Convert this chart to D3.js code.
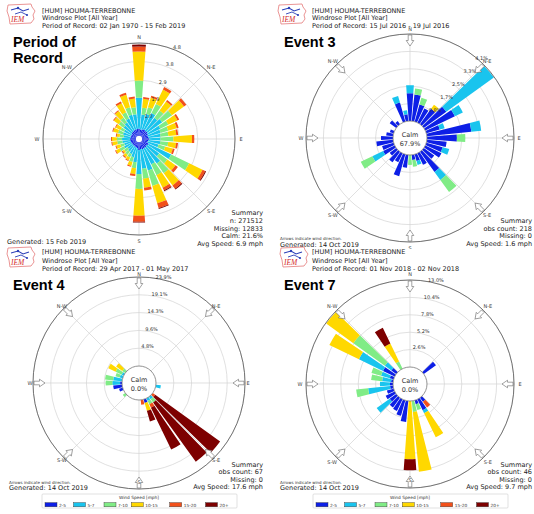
<!DOCTYPE html>
<html><head><meta charset="utf-8">
<script src="https://cdn.jsdelivr.net/npm/d3@7"></script>
<style>
html,body{margin:0;padding:0;background:#fff;}
svg{display:block;font-family:"DejaVu Sans",sans-serif;}
</style></head><body>
<svg id="c" width="534" height="514"></svg>
<script>
// ---------- shared categories ----------
const directions = [0,10,20,30,40,50,60,70,80,90,100,110,120,130,140,150,160,170,180,190,200,210,220,230,240,250,260,270,280,290,300,310,320,330,340,350];
const speedBins = ["2-5","5-7","7-10","10-15","15-20","20+"];
const binColors = ["#0d1fe6","#19c4ee","#80ec86","#ffd800","#f2501a","#7d0000"];
const compassLabels = ["N","N-E","E","S-E","S","S-W","W","N-W"];
const compassBearings = [0,45,90,135,180,225,270,315];
const stationLine = "[HUM] HOUMA-TERREBONNE";
const plotLine = "Windrose Plot [All Year]";

// ---------- Panel 1: Period of Record ----------
const porPeriod = "Period of Record: 02 Jan 1970 - 15 Feb 2019";
const por_2_5   = [0.38,0.34,0.36,0.40,0.37,0.39,0.35,0.33,0.34,0.38,0.33,0.32,0.40,0.36,0.38,0.37,0.39,0.36,0.41,0.33,0.30,0.29,0.28,0.27,0.29,0.28,0.30,0.31,0.28,0.30,0.29,0.31,0.33,0.35,0.37,0.36];
const por_5_7   = [1.60,0.77,0.83,0.93,0.83,0.93,0.72,0.67,0.62,0.57,0.62,0.57,1.29,0.77,1.03,0.93,1.14,1.03,1.24,0.72,0.52,0.41,0.36,0.31,0.41,0.36,0.41,0.41,0.36,0.41,0.41,0.52,0.57,0.67,0.77,0.77];
const por_7_10  = [0.88,0.36,0.36,0.52,0.46,0.62,0.46,0.41,0.41,0.67,0.41,0.36,1.03,0.52,0.62,0.62,0.83,0.52,0.77,0.31,0.26,0.21,0.21,0.21,0.26,0.21,0.26,0.26,0.21,0.26,0.21,0.31,0.31,0.36,0.41,0.36];
const por_10_15 = [1.50,0.46,0.52,0.83,0.57,0.77,0.52,0.46,0.41,0.96,0.41,0.41,0.77,0.52,0.77,0.72,0.93,0.46,1.38,0.31,0.21,0.15,0.15,0.10,0.21,0.21,0.26,0.26,0.15,0.26,0.26,0.31,0.41,0.52,0.67,0.46];
const por_15_20 = [0.26,0.10,0.10,0.15,0.10,0.15,0.10,0.10,0.10,0.12,0.10,0.10,0.15,0.15,0.21,0.15,0.26,0.15,0.31,0.10,0.05,0.05,0.05,0.05,0.05,0.05,0.05,0.05,0.05,0.05,0.05,0.05,0.05,0.10,0.10,0.10];
const por_20p   = [0.10,0,0,0,0,0,0,0,0,0,0,0,0.05,0,0.05,0.05,0.05,0,0.05,0,0,0,0,0,0,0,0,0,0,0,0,0,0,0,0,0];
const porRingValues = [0.96,1.92,2.88,3.84,4.8];
const porRingLabels = ["1.0","1.9","2.9","3.8","4.8"];
const porSummary = ["Summary","n: 271512","Missing: 12833","Calm: 21.6%","Avg Speed: 6.9 mph"];

// ---------- Panel 2: Event 3 ----------
const ev3Period = "Period of Record: 15 Jul 2016 - 19 Jul 2016";
const ev3_2_5   = [1.32,1.27,0.85,0.75,0.90,1.32,1.56,0.66,2.12,1.42,0.94,0.80,0.85,0.61,1.18,0.61,0.33,0.24,0,0.61,1.08,0.47,0.61,0.38,0.61,0.57,0.80,0.57,0.33,0.19,0,0.38,0.19,0,0.94,0.33];
const ev3_5_7   = [0.38,0,0,0,0,2.78,0.42,0.24,0.47,0,0,0.33,0,0,0.47,0,0.19,0,0,0,0,0,0,0,0.57,0,0,0,0,0,0,0,0,0,0.33,0.19];
const ev3_7_10  = [0,0.28,0.33,0,0,0,0,0,0,0.40,0,0,0,0,0.71,0,0,0.33,0.47,0,0,0,0,0,0.61,0,0,0,0,0,0,0,0,0,0,0];
const ev3_10_15 = [0,0,0,0,0.24,0,0,0,0,0,0,0,0,0,0,0,0,0,0,0,0,0,0,0,0,0,0,0,0,0,0,0,0,0,0,0];
const ev3_15_20 = [0,0,0,0,0,0,0,0,0,0,0,0,0,0,0,0,0,0,0,0,0,0,0,0,0,0,0,0,0,0,0,0,0,0,0,0];
const ev3_20p   = [0,0,0,0,0,0,0,0,0,0,0,0,0,0,0,0,0,0,0,0,0,0,0,0,0,0,0,0,0,0,0,0,0,0,0,0];
const ev3RingValues = [0.826,1.652,2.478,3.304,4.13];
const ev3RingLabels = ["0.8%","1.7%","2.5%","3.3%","4.1%"];
const ev3Calm = "67.9%";
const ev3Summary = ["Summary","obs count: 218","Missing: 0","Avg Speed: 1.6 mph"];

// ---------- Panel 3: Event 4 ----------
const ev4Period = "Period of Record: 29 Apr 2017 - 01 May 2017";
const ev4_2_5   = [0,0,0,0,0,0,0,0,0,0,0,0,0,0,0,0,1.0,0,0,0,0,0,0,0,0,1.0,2.4,0.5,0,0,0,0,0,0,0,0];
const ev4_5_7   = [0,0,0,0,0,0,0,0,0,0,1.34,0,0,0,0.8,0.8,0,0,0,0,0,0,0,0,0,0,0,2.1,2.4,0.8,0.6,0,0,0,0,0];
const ev4_7_10  = [0,0,0,0,0,0,0,0,0,0,0,0,0,0,1.1,1.0,0,0,0,0,0,0,0,0.8,0,0,0,1.8,2.2,1.2,1.8,1.0,0,0,0,0];
const ev4_10_15 = [0,0,0,0,0,0,0,0,0,0,0,0,0,0,0,0,2.2,0,0,0,0,0,0,0,0,0,0,0,0,0,2.2,2.0,0,0,0,0];
const ev4_15_20 = [0,0,0,0,0,0,0,0,0,0,0,0,0,0.8,0,1.0,0,1.3,0,0,0,0,0,0,0,0,0,0,0,0,0,0,0,0,0,0];
const ev4_20p   = [0,0,0,0,0,0,0,0,0,0,0,0,0,21.5,19.6,12.5,3.0,0,0,0,0,0,0,0,0,0,0,0,0,0,0,0,0,0,0,0];
const ev4RingValues = [4.78,9.56,14.34,19.12,23.9];
const ev4RingLabels = ["4.8%","9.6%","14.3%","19.1%","23.9%"];
const ev4Calm = "0.0%";
const ev4Summary = ["Summary","obs count: 67","Missing: 0","Avg Speed: 17.6 mph"];

// ---------- Panel 4: Event 7 ----------
const ev7Period = "Period of Record: 01 Nov 2018 - 02 Nov 2018";
const ev7_2_5   = [0,0,0,0,0,2.25,0,0,0,0,0,0,0,0,0.75,1.8,0.6,0,0,3.15,2.4,1.95,1.8,1.2,1.5,1.05,0.45,0.45,0.3,0.6,1.94,0.9,0,0,0,0];
const ev7_5_7   = [0,0,0,0,0,0,0,0,0,0,0,0,0,0,0,0.5,0,0,0,0,0,0,0,2.4,0,0,3.3,1.5,1.35,1.35,4.0,1.2,0,0,0,0];
const ev7_7_10  = [0,0,0,0,0,0,0,0,0,0,0,0,0,0,0,0,0.9,1.65,0,0,0,0,0,0,0,0,1.8,0,1.65,1.5,0,5.8,0,1.2,0,0];
const ev7_10_15 = [0,0,0,0,0,0,0,0,0,0,0,0,0,0,0,4.0,0,9.0,8.7,0,0,0,0,0,0,0,0,0,0,0,4.9,5.0,0,3.0,0,0];
const ev7_15_20 = [0,0,0,0,0,0,0,0,0,0,0,0,0,0,1.05,0,0,0,0,0,0,0,0,0,0,0,0,0,0,0,0,0,0,0,0,0];
const ev7_20p   = [0,0,0,0,0,0,0,0,0,0,0,0,0,0,0,0,0,0,1.65,0,0,0,0,0,0,0,0,0,0,0,0,0,0,2.6,0,0];
const ev7RingValues = [2.6,5.2,7.8,10.4,13.0];
const ev7RingLabels = ["2.6%","5.2%","7.8%","10.4%","13.0%"];
const ev7Calm = "0.0%";
const ev7Summary = ["Summary","obs count: 46","Missing: 0","Avg Speed: 9.7 mph"];

const arrowNote = "Arrows indicate wind direction.";
const legendTitle = "Wind Speed [mph]";

// ---------- layout / config ----------
const panels = [
  {id:"p1", clip:[0,0,267,249], cx:139, cy:139, R:96, r0:3, max:4.8,
   series:[por_2_5,por_5_7,por_7_10,por_10_15,por_15_20,por_20p],
   rings:porRingValues, ringLabels:porRingLabels, ringBearing:22.5,
   calm:null, arrows:false, labelR:102, sLabelR:102,
   period:porPeriod, tx:42, ty:[12.5,20,27.5], logo:[7,3],
   big:["Period of","Record"], bx:13, by:[47,63],
   summary:porSummary, sx:263, sy:[215.3,223.3,230.8,238.3,245.8],
   gen:"Generated: 15 Feb 2019", gx:7, gy:243.5, note:null, legend:false},
  {id:"p2", clip:[267,0,267,249], cx:410, cy:138, R:104, r0:17, max:4.13,
   series:[ev3_2_5,ev3_5_7,ev3_7_10,ev3_10_15,ev3_15_20,ev3_20p],
   rings:ev3RingValues, ringLabels:ev3RingLabels, ringBearing:42,
   calm:ev3Calm, arrows:true, labelR:109, sLabelR:110,
   period:ev3Period, tx:312, ty:[12.5,20,27.5], logo:[278,3],
   big:["Event 3"], bx:284, by:[47],
   summary:ev3Summary, sx:532, sy:[223,230.5,238,245.5],
   gen:"Generated: 14 Oct 2019", gx:280, gy:247.3, note:[280,239.7], legend:false},
  {id:"p3", clip:[0,246,267,268], cx:139, cy:383, R:106, r0:17, max:23.9,
   series:[ev4_2_5,ev4_5_7,ev4_7_10,ev4_10_15,ev4_15_20,ev4_20p],
   rings:ev4RingValues, ringLabels:ev4RingLabels, ringBearing:13,
   calm:ev4Calm, arrows:true, labelR:109, sLabelR:99,
   period:ev4Period, tx:42, ty:[254,262.5,270.8], logo:[7,246],
   big:["Event 4"], bx:13, by:[290],
   summary:ev4Summary, sx:263, sy:[466.5,474.2,482,489.3],
   gen:"Generated: 14 Oct 2019", gx:9, gy:489.5, note:[9,483.5], legend:true},
  {id:"p4", clip:[267,246,267,268], cx:410, cy:384, R:104, r0:17, max:13.0,
   series:[ev7_2_5,ev7_5_7,ev7_7_10,ev7_10_15,ev7_15_20,ev7_20p],
   rings:ev7RingValues, ringLabels:ev7RingLabels, ringBearing:14,
   calm:ev7Calm, arrows:true, labelR:110, sLabelR:96,
   period:ev7Period, tx:312, ty:[254,262.5,270.8], logo:[280,246],
   big:["Event 7"], bx:284, by:[290],
   summary:ev7Summary, sx:532, sy:[466.5,474.2,482,489.3],
   gen:"Generated: 14 Oct 2019", gx:280, gy:489.5, note:[280,483.5], legend:true}
];

const svg = d3.select("#c");
const defs = svg.append("defs");
const rad = d => d*Math.PI/180;

function drawLogo(g, x, y){
  const l = g.append("g").attr("transform",`translate(${x},${y})`);
  l.append("path").attr("d","M1,2 L24,1 L25,4 L28,8 L26,12 L27,16 L24,20 L3,21 L2,14 L0,8 Z")
    .attr("fill","#fff").attr("stroke","#e47a7a").attr("stroke-width",0.8);
  l.append("path").attr("d","M4,7 L11,5 L16,8 L22,6").attr("fill","none").attr("stroke","#2b3fb8").attr("stroke-width",1.1);
  l.append("path").attr("d","M8,11 L14,9 L20,12").attr("fill","none").attr("stroke","#2b3fb8").attr("stroke-width",0.9);
  l.append("circle").attr("cx",11).attr("cy",5).attr("r",1.2).attr("fill","#2b3fb8");
  l.append("circle").attr("cx",20).attr("cy",12).attr("r",1.1).attr("fill","#2b3fb8");
  l.append("text").attr("x",4).attr("y",19).attr("font-family","Liberation Serif, serif").attr("font-style","italic")
    .attr("font-size",7.5).attr("fill","#d42a2a").text("IEM");
}

panels.forEach(p => {
  defs.append("clipPath").attr("id","clip-"+p.id).append("rect")
    .attr("x",p.clip[0]).attr("y",p.clip[1]).attr("width",p.clip[2]).attr("height",p.clip[3]);
  const g = svg.append("g").attr("clip-path",`url(#clip-${p.id})`);
  const rs = d3.scaleLinear().domain([0,p.max]).range([p.r0,p.R]);
  const cx = p.cx, cy = p.cy;

  // rings
  p.rings.forEach(v => {
    g.append("circle").attr("cx",cx).attr("cy",cy).attr("r",rs(v))
      .attr("fill","none").attr("stroke","#d2d2d2").attr("stroke-width",0.7);
  });
  // spokes
  compassBearings.forEach(b => {
    g.append("line")
      .attr("x1",cx+p.r0*Math.sin(rad(b))).attr("y1",cy-p.r0*Math.cos(rad(b)))
      .attr("x2",cx+p.R*Math.sin(rad(b))).attr("y2",cy-p.R*Math.cos(rad(b)))
      .attr("stroke","#d2d2d2").attr("stroke-width",0.7);
  });
  // bars
  const arc = d3.arc();
  const half = rad(4.2);
  const bars = g.append("g").attr("transform",`translate(${cx},${cy})`);
  directions.forEach((dir,i) => {
    let cum = 0;
    p.series.forEach((arr,k) => {
      const v = arr[i];
      if (!v) return;
      bars.append("path")
        .attr("d", arc({innerRadius:rs(cum), outerRadius:rs(cum+v), startAngle:rad(dir)-half, endAngle:rad(dir)+half}))
        .attr("fill", binColors[k]);
      cum += v;
    });
  });
  // outer circle
  g.append("circle").attr("cx",cx).attr("cy",cy).attr("r",p.R)
    .attr("fill","none").attr("stroke","#555").attr("stroke-width",0.8);
  // calm circle
  if (p.calm !== null) {
    g.append("circle").attr("cx",cx).attr("cy",cy).attr("r",p.r0)
      .attr("fill","#fff").attr("stroke","#777").attr("stroke-width",0.8);
    g.append("text").attr("x",cx).attr("y",cy-1).attr("text-anchor","middle")
      .attr("font-size",6.5).attr("fill","#333").text("Calm");
    g.append("text").attr("x",cx).attr("y",cy+7.5).attr("text-anchor","middle")
      .attr("font-size",6.5).attr("fill","#333").text(p.calm);
  } else {
    g.append("circle").attr("cx",cx).attr("cy",cy).attr("r",p.r0).attr("fill","#fff");
  }
  // ring labels
  p.rings.forEach((v,i) => {
    const r = rs(v)+3;
    g.append("text").attr("x",cx+r*Math.sin(rad(p.ringBearing))).attr("y",cy-r*Math.cos(rad(p.ringBearing)))
      .attr("dy","0.35em").attr("text-anchor","middle").attr("font-size",5).attr("fill","#333")
      .text(p.ringLabels[i]);
  });
  // arrows
  if (p.arrows) {
    compassBearings.forEach(b => {
      const rt = p.R - 1;
      g.append("path").attr("d","M-1.8,0 L1.8,0 L1.8,5.5 L3.8,5.5 L0,11 L-3.8,5.5 L-1.8,5.5 Z")
        .attr("transform",`translate(${cx+rt*Math.sin(rad(b))},${cy-rt*Math.cos(rad(b))}) rotate(${b})`)
        .attr("fill","#fff").attr("stroke","#666").attr("stroke-width",0.6);
    });
  }
  // compass labels
  compassBearings.forEach((b,i) => {
    const r = (b===180) ? p.sLabelR : p.labelR;
    g.append("text").attr("x",cx+r*Math.sin(rad(b))).attr("y",cy-r*Math.cos(rad(b)))
      .attr("dy","0.35em").attr("text-anchor","middle").attr("font-size",5).attr("fill","#444")
      .text(compassLabels[i]);
  });
  // header
  drawLogo(g, p.logo[0], p.logo[1]);
  [stationLine, plotLine, p.period].forEach((t,i) => {
    g.append("text").attr("x",p.tx).attr("y",p.ty[i]).attr("font-size",6.5).attr("fill","#222").text(t);
  });
  // big label
  p.big.forEach((t,i) => {
    g.append("text").attr("x",p.bx).attr("y",p.by[i]).attr("font-family","Liberation Sans, Arial, sans-serif")
      .attr("font-weight","bold").attr("font-size",14.5).attr("fill","#000").text(t);
  });
  // summary
  p.summary.forEach((t,i) => {
    g.append("text").attr("x",p.sx).attr("y",p.sy[i]).attr("text-anchor","end")
      .attr("font-size",6.5).attr("fill","#222").text(t);
  });
  if (p.note) {
    g.append("text").attr("x",p.note[0]).attr("y",p.note[1]).attr("font-size",4).attr("fill","#333").text(arrowNote);
  }
  g.append("text").attr("x",p.gx).attr("y",p.gy).attr("font-size",6.5).attr("fill","#222").text(p.gen);

  // legend
  if (p.legend) {
    const lg = g.append("g");
    lg.append("rect").attr("x",cx-97).attr("y",494).attr("width",195).attr("height",14)
      .attr("fill","#fff").attr("stroke","#ccc").attr("stroke-width",0.6).attr("rx",1);
    lg.append("text").attr("x",cx).attr("y",498.8).attr("text-anchor","middle")
      .attr("font-size",4.3).attr("fill","#333").text(legendTitle);
    const offs = [-94,-65.5,-35,-7.7,30.7,66.5];
    speedBins.forEach((s,k) => {
      lg.append("rect").attr("x",cx+offs[k]).attr("y",502.6).attr("width",12).attr("height",4.2)
        .attr("fill",binColors[k]).attr("stroke","#333").attr("stroke-width",0.4);
      lg.append("text").attr("x",cx+offs[k]+14).attr("y",506.5).attr("font-size",4.3).attr("fill","#333").text(s);
    });
  }
});
</script>
</body></html>
